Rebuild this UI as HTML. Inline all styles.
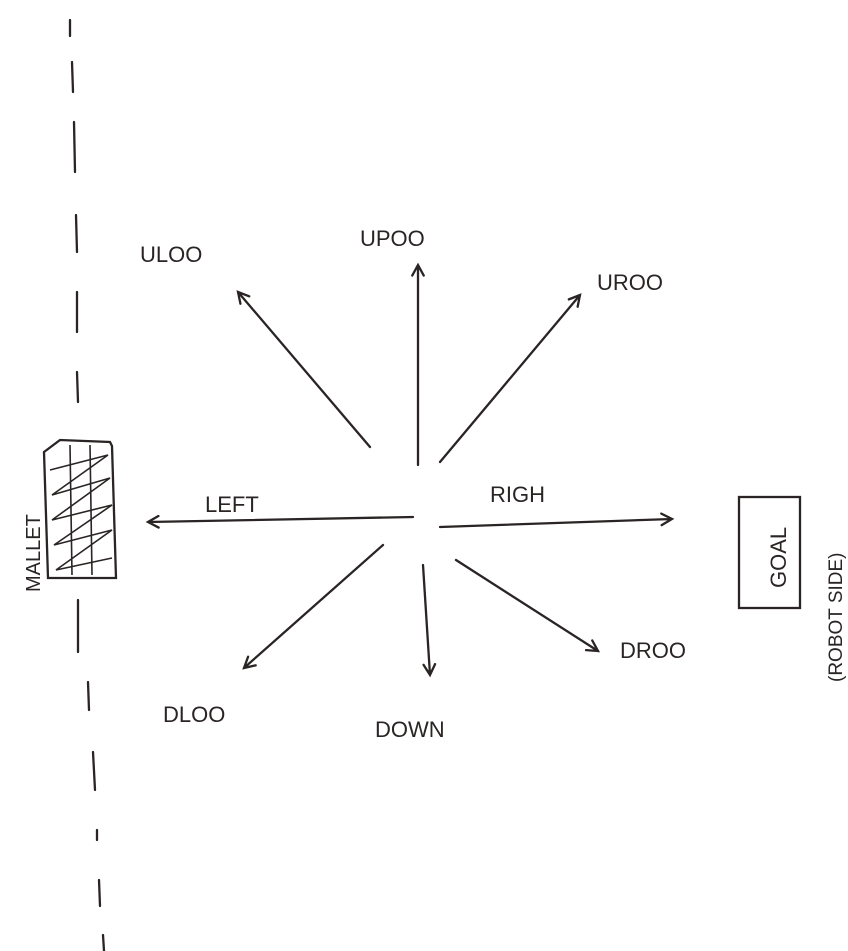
<!DOCTYPE html>
<html><head><meta charset="utf-8">
<style>
html,body{margin:0;padding:0;background:#fff;}
svg{display:block;}
text{font-family:"Liberation Sans",sans-serif;fill:#2a2424;}
</style></head>
<body>
<svg id="s" width="848" height="951" viewBox="0 0 848 951" xmlns="http://www.w3.org/2000/svg">
  <g id="dash" stroke="#2a2424" stroke-width="2.3" stroke-linecap="round"></g>
  <g>
    <path d="M44 452 L60 440 L110 442 L112 446 L116 578 L48 578 Z" fill="none" stroke="#2a2424" stroke-width="2.3"/>
    <path d="M50 470 L108 455 L52 495 L110 478 L52 520 L112 505 L54 545 L112 530 L56 570 L112 558 M70 445 L72 575 M90 445 L92 575" fill="none" stroke="#2a2424" stroke-width="1.6"/>
  </g>
  <text transform="translate(40,592) rotate(-90)" font-size="20">MALLET</text>
  <g>
    <rect x="739" y="497" width="61" height="111" fill="none" stroke="#2a2424" stroke-width="2.3"/>
    <text transform="translate(786,588) rotate(-90)" font-size="22">GOAL</text>
  </g>
  <text transform="translate(842,682) rotate(-90)" font-size="19">(ROBOT SIDE)</text>
  <g id="arrows" stroke="#2a2424" stroke-width="2.3" fill="none" stroke-linecap="round"></g>
  <g id="labels"></g>
</svg>
<script>
const dirNames = ["UPOO","ULOO","UROO","LEFT","RIGH","DLOO","DOWN","DROO"];
const arrowFrom = [[418,465],[370,447],[440,462],[413,517],[440,527],[383,545],[423,565],[456,560]];
const arrowTo = [[418,265],[238,292],[580,295],[148,522],[672,519],[244,668],[430,675],[598,651]];
const labelPos = [[360,246],[140,262],[597,290],[205,512],[490,502],[163,722],[375,737],[620,658]];
const dashSegs = [[70,20,70,36],[72,62,73,92],[74,122,75,172],[76,215,77,252],[77,292,77,332],[77,372,78,402],[78,600,78,652],[88,682,89,710],[93,752,95,790],[97,830,97,840],[99,880,100,906],[103,935,104,951]];
const NS="http://www.w3.org/2000/svg";
const dash=document.getElementById('dash');
dashSegs.forEach(d=>{const l=document.createElementNS(NS,'line');
l.setAttribute('x1',d[0]);l.setAttribute('y1',d[1]);l.setAttribute('x2',d[2]);l.setAttribute('y2',d[3]);


dash.appendChild(l);});
const ag=document.getElementById('arrows'), lg=document.getElementById('labels');
dirNames.forEach((n,i)=>{
 const [x1,y1]=arrowFrom[i],[x2,y2]=arrowTo[i];
 const a=Math.atan2(y2-y1,x2-x1),h=12,sp=0.5;
 const p=document.createElementNS(NS,'path');
 p.setAttribute('d',`M${x1} ${y1} L${x2} ${y2} M${x2-h*Math.cos(a-sp)} ${y2-h*Math.sin(a-sp)} L${x2} ${y2} L${x2-h*Math.cos(a+sp)} ${y2-h*Math.sin(a+sp)}`);
 
 
 ag.appendChild(p);
 const t=document.createElementNS(NS,'text');
 t.setAttribute('x',labelPos[i][0]);t.setAttribute('y',labelPos[i][1]);
 t.setAttribute('font-size','22');t.textContent=n;
 
 
 lg.appendChild(t);
});
</script>
</body></html>
